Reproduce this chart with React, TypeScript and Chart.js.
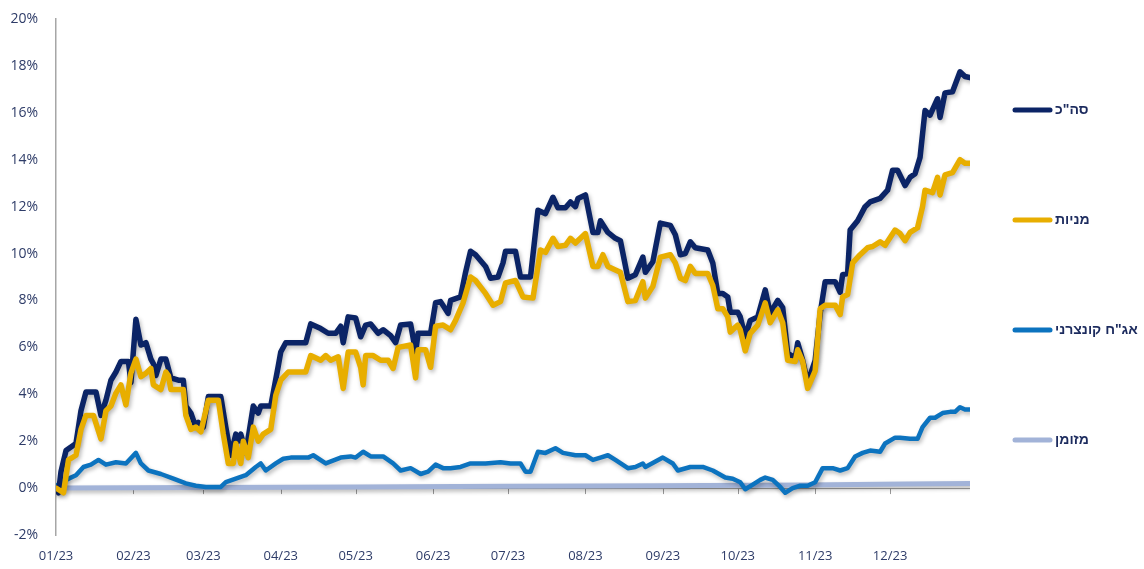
import React, { useEffect, useRef } from 'react';
import { Chart, registerables } from 'chart.js';

Chart.register(...registerables);

// Day-of-year (2023) positions of the month ticks and their labels
const monthDays = [0, 31, 59, 90, 120, 151, 181, 212, 243, 273, 304, 334];
const monthLabels = ['01/23', '02/23', '03/23', '04/23', '05/23', '06/23', '07/23', '08/23', '09/23', '10/23', '11/23', '12/23'];

// [day of year, cumulative return %]
const totalSeries: [number, number][] = [
  [0, 0], [1, -0.2], [2, 0.7], [4, 1.6], [8, 1.9], [10, 3.3], [12, 4.1], [16, 4.1], [18, 3.1], [20, 3.75],
  [22, 4.6], [24, 4.95], [26, 5.4], [29, 5.4], [30, 4.5], [32, 7.2], [34, 6.1], [36, 6.2], [38, 5.5], [39, 5.3],
  [40, 4.8], [42, 5.5], [44, 5.5], [46, 4.7], [49, 4.6], [51, 4.6], [52, 3.5], [54, 3.2], [56, 2.6], [57, 2.8],
  [59, 2.6], [61, 3.9], [66, 3.9], [68, 2.6], [70, 1.4], [72, 2.3], [73, 2.0], [74, 2.3], [76, 1.5], [79, 3.5],
  [81, 3.2], [82, 3.5], [86, 3.5], [89, 5.2], [90, 5.8], [92, 6.2], [100, 6.2], [102, 7.0], [106, 6.8], [109, 6.6],
  [112, 6.6], [114, 6.9], [115, 6.2], [117, 7.3], [120, 7.25], [122, 6.45], [124, 6.95], [126, 7.0], [129, 6.6], [131, 6.75],
  [134, 6.5], [136, 6.2], [138, 6.95], [142, 7.0], [144, 5.8], [145, 6.6], [150, 6.6], [152, 7.9], [154, 7.95], [157, 7.45],
  [158, 8.0], [162, 8.15], [164, 9.2], [166, 10.1], [168, 9.95], [172, 9.45], [174, 8.95], [177, 9.0], [179, 9.6], [180, 10.1],
  [184, 10.1], [186, 9.0], [190, 9.0], [193, 11.85], [196, 11.7], [199, 12.4], [201, 11.95], [204, 11.95], [206, 12.2], [208, 12.0],
  [209, 12.35], [212, 12.5], [215, 10.9], [217, 10.9], [218, 11.4], [221, 10.9], [224, 10.65], [226, 10.55], [229, 8.95], [232, 9.1],
  [235, 9.85], [236, 9.2], [239, 9.65], [242, 11.3], [246, 11.2], [248, 10.8], [250, 9.95], [252, 10.0], [254, 10.5], [256, 10.25],
  [261, 10.15], [263, 9.6], [265, 8.3], [267, 8.3], [269, 8.15], [270, 7.5], [273, 7.5], [274, 7.3], [276, 6.45], [278, 7.15],
  [281, 7.3], [284, 8.45], [286, 7.45], [289, 8.0], [291, 7.7], [293, 5.75], [296, 5.55], [297, 6.2], [299, 5.45], [301, 4.5],
  [304, 5.45], [306, 7.45], [308, 8.8], [312, 8.8], [314, 8.35], [315, 9.1], [317, 9.15], [318, 11.0], [321, 11.4], [324, 12.0],
  [326, 12.2], [330, 12.35], [333, 12.7], [335, 13.55], [337, 13.55], [340, 12.9], [342, 13.25], [344, 13.4], [346, 14.1], [348, 16.1],
  [350, 15.9], [353, 16.6], [354, 15.8], [356, 16.85], [359, 16.9], [362, 17.75], [364, 17.55], [366, 17.5],
];

const equitySeries: [number, number][] = [
  [0, 0], [3, -0.2], [5, 1.2], [8, 1.4], [10, 2.5], [12, 3.1], [15, 3.1], [18, 2.1], [20, 3.3], [22, 3.5],
  [24, 4.05], [26, 4.4], [28, 3.55], [30, 4.9], [32, 5.5], [34, 4.75], [36, 4.9], [38, 5.1], [39, 4.4], [42, 4.2],
  [44, 4.95], [45, 4.8], [46, 4.2], [51, 4.2], [52, 3.1], [54, 2.5], [56, 2.6], [58, 2.4], [61, 3.75], [65, 3.75],
  [67, 2.3], [69, 1.05], [71, 1.05], [72, 1.9], [74, 1.05], [75, 2.0], [77, 1.3], [79, 2.6], [81, 2.0], [83, 2.3],
  [86, 2.5], [88, 3.95], [90, 4.6], [93, 4.95], [100, 4.95], [102, 5.65], [106, 5.45], [108, 5.65], [110, 5.45], [113, 5.6],
  [115, 4.25], [117, 5.8], [120, 5.8], [122, 5.15], [123, 4.4], [124, 5.65], [127, 5.65], [130, 5.45], [133, 5.45], [135, 5.1],
  [137, 6.0], [142, 6.1], [144, 4.7], [145, 5.9], [148, 5.9], [150, 5.15], [152, 6.9], [155, 6.95], [158, 6.75], [160, 7.15],
  [163, 7.9], [166, 9.0], [168, 8.85], [172, 8.3], [175, 7.8], [178, 7.95], [180, 8.75], [184, 8.85], [187, 8.15], [191, 8.1],
  [194, 10.15], [196, 10.05], [199, 10.65], [201, 10.3], [204, 10.35], [206, 10.65], [208, 10.45], [212, 10.85], [215, 9.45], [217, 9.45],
  [219, 9.95], [221, 9.45], [224, 9.3], [226, 9.2], [229, 7.95], [232, 8.0], [235, 8.8], [236, 8.1], [239, 8.6], [242, 9.85],
  [246, 9.95], [248, 9.6], [250, 8.95], [252, 8.85], [254, 9.45], [256, 9.15], [261, 9.15], [263, 8.65], [265, 7.65], [267, 7.65],
  [269, 7.3], [270, 6.65], [273, 6.95], [274, 6.75], [276, 5.85], [278, 6.6], [281, 6.95], [284, 7.9], [286, 7.05], [289, 7.6],
  [291, 7.05], [293, 5.45], [296, 5.4], [297, 5.9], [299, 5.4], [301, 4.25], [304, 5.0], [306, 7.65], [308, 7.8], [312, 7.8],
  [314, 7.4], [315, 8.15], [317, 8.25], [319, 9.6], [322, 9.95], [325, 10.25], [327, 10.3], [330, 10.5], [332, 10.35], [336, 11.0],
  [338, 10.85], [340, 10.55], [342, 10.9], [345, 11.1], [347, 12.0], [348, 12.7], [351, 12.6], [353, 13.25], [354, 12.5], [356, 13.35],
  [359, 13.45], [362, 14.0], [364, 13.85], [366, 13.85],
];

const bondSeries: [number, number][] = [
  [0, 0.1], [4, 0.35], [8, 0.55], [11, 0.9], [14, 1.0], [17, 1.2], [20, 1.0], [24, 1.1], [28, 1.05], [32, 1.5],
  [34, 1.05], [37, 0.75], [42, 0.6], [47, 0.4], [52, 0.2], [56, 0.1], [60, 0.05], [66, 0.05], [68, 0.25], [72, 0.4],
  [76, 0.55], [80, 0.9], [82, 1.05], [84, 0.75], [88, 1.05], [91, 1.25], [94, 1.3], [101, 1.3], [103, 1.4], [108, 1.05],
  [114, 1.3], [118, 1.35], [120, 1.3], [123, 1.55], [126, 1.35], [131, 1.35], [135, 1.05], [138, 0.75], [142, 0.85], [146, 0.6],
  [149, 0.7], [152, 1.0], [155, 0.85], [158, 0.85], [162, 0.9], [166, 1.05], [172, 1.05], [178, 1.1], [182, 1.05], [186, 1.05],
  [188, 0.7], [190, 0.7], [193, 1.55], [196, 1.5], [200, 1.7], [203, 1.5], [208, 1.4], [212, 1.4], [215, 1.2], [218, 1.3],
  [221, 1.4], [224, 1.2], [229, 0.85], [232, 0.9], [235, 1.05], [236, 0.9], [243, 1.3], [247, 1.05], [249, 0.75], [254, 0.9],
  [259, 0.9], [263, 0.75], [268, 0.45], [271, 0.4], [274, 0.25], [276, -0.05], [279, 0.15], [282, 0.35], [284, 0.45], [287, 0.35],
  [290, 0.05], [292, -0.2], [295, 0], [298, 0.1], [301, 0.1], [304, 0.25], [307, 0.85], [311, 0.85], [314, 0.75], [317, 0.85],
  [320, 1.35], [323, 1.5], [326, 1.6], [330, 1.55], [332, 1.9], [336, 2.15], [338, 2.15], [342, 2.1], [345, 2.1], [347, 2.6],
  [350, 3.0], [352, 3.0], [355, 3.2], [358, 3.25], [360, 3.25], [362, 3.45], [364, 3.35], [366, 3.35],
];

const cashSeries: [number, number][] = [
  [0, 0], [60, 0.02], [120, 0.05], [180, 0.08], [240, 0.1], [300, 0.13], [340, 0.17], [366, 0.2],
];

const seriesLabels = ['סה"כ', 'מניות', 'אג"ח קונצרני', 'מזומן'];
const seriesColors = ['#0b2466', '#e8ae00', '#0c73bf', '#a2b3d8'];

const toPoints = (s: [number, number][]) => s.map(([x, y]) => ({ x, y }));

const lineShadow = {
  id: 'lineShadow',
  beforeDatasetDraw(chart: any) {
    const ctx = chart.ctx;
    ctx.save();
    ctx.shadowColor = 'rgba(0,0,0,0.28)';
    ctx.shadowBlur = 4;
    ctx.shadowOffsetX = 1.5;
    ctx.shadowOffsetY = 2.5;
  },
  afterDatasetDraw(chart: any) {
    chart.ctx.restore();
  },
};

const zeroAxis = {
  id: 'zeroAxis',
  beforeDatasetsDraw(chart: any) {
    const { ctx, chartArea, scales } = chart;
    const y0 = scales.y.getPixelForValue(0);
    ctx.save();
    ctx.strokeStyle = '#9a9a9a';
    ctx.lineWidth = 1;
    ctx.beginPath();
    ctx.moveTo(chartArea.left, y0 + 0.5);
    ctx.lineTo(chartArea.right, y0 + 0.5);
    monthDays.forEach((d) => {
      const x = Math.round(scales.x.getPixelForValue(d)) + 0.5;
      ctx.moveTo(x, y0);
      ctx.lineTo(x, y0 + 6);
    });
    ctx.stroke();
    ctx.restore();
  },
};

const sideLegend = {
  id: 'sideLegend',
  afterDraw(chart: any) {
    const ctx = chart.ctx;
    const x0 = 1015;
    const x1 = 1050;
    ctx.save();
    seriesLabels.forEach((label, i) => {
      const y = 110 + i * 110;
      ctx.strokeStyle = seriesColors[i];
      ctx.lineWidth = 5;
      ctx.lineCap = 'round';
      ctx.beginPath();
      ctx.moveTo(x0, y);
      ctx.lineTo(x1, y);
      ctx.stroke();
      ctx.fillStyle = '#1c2b5e';
      ctx.font = 'bold 14px "Liberation Sans", "DejaVu Sans", Arial, sans-serif';
      ctx.textBaseline = 'middle';
      ctx.textAlign = 'left';
      (ctx as any).direction = 'rtl';
      ctx.fillText(label, 1055, y);
    });
    ctx.restore();
  },
};

export default function App() {
  const ref = useRef<HTMLCanvasElement | null>(null);
  useEffect(() => {
    if (!ref.current) return;
    const series = [totalSeries, equitySeries, bondSeries, cashSeries];
    const widths = [5.5, 5.5, 4.5, 5];
    const orders = [1, 0, 2, 3];
    const chart = new Chart(ref.current, {
      type: 'line',
      data: {
        datasets: series.map((s, i) => ({
          label: seriesLabels[i],
          data: toPoints(s),
          borderColor: seriesColors[i],
          backgroundColor: seriesColors[i],
          borderWidth: widths[i],
          pointRadius: 0,
          tension: 0,
          borderJoinStyle: 'round' as const,
          borderCapStyle: 'round' as const,
          order: orders[i],
          fill: false,
        })),
      },
      options: {
        responsive: false,
        animation: false,
        layout: { padding: { top: 19, right: 174, bottom: 0, left: 0 } },
        plugins: {
          legend: { display: false },
          tooltip: { enabled: false },
        },
        scales: {
          x: {
            type: 'linear',
            min: 0,
            max: 366,
            grid: { display: false, drawTicks: false },
            border: { display: false },
            afterBuildTicks: (scale: any) => {
              scale.ticks = monthDays.map((v) => ({ value: v }));
            },
            afterFit: (scale: any) => {
              scale.height = 34;
              scale.paddingLeft = 0;
              scale.paddingRight = 0;
            },
            ticks: {
              autoSkip: false,
              maxRotation: 0,
              padding: 13,
              color: '#2e3c68',
              font: { family: '"Open Sans", "Noto Sans", sans-serif', size: 13 },
              callback: (_v: any, i: number) => monthLabels[i],
            },
          },
          y: {
            min: -2,
            max: 20,
            grid: { display: false, drawTicks: false },
            border: { display: true, color: '#a6a6a6', width: 1.5 },
            afterFit: (scale: any) => {
              scale.width = 56;
              scale.paddingTop = 0;
              scale.paddingBottom = 0;
            },
            ticks: {
              stepSize: 2,
              padding: 18,
              color: '#2e3c68',
              font: { family: '"Open Sans", "Noto Sans", sans-serif', size: 14 },
              callback: (v: any) => `${v}%`,
            },
          },
        },
      },
      plugins: [zeroAxis, lineShadow, sideLegend],
    });
    return () => chart.destroy();
  }, []);

  return (
    <div style={{ position: 'absolute', left: 0, top: 0, width: 1144, height: 569, background: '#fff' }}>
      <canvas ref={ref} width={1144} height={569} />
    </div>
  );
}
